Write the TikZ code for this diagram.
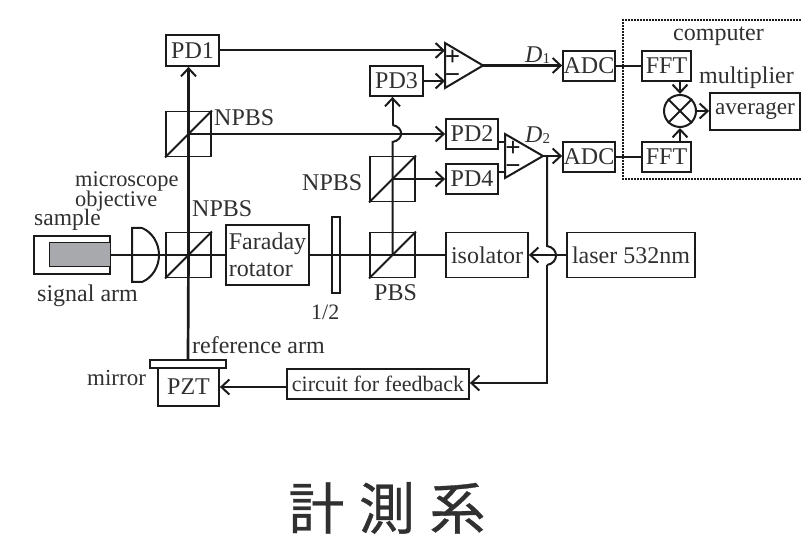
\documentclass[tikz,border=0pt]{standalone}
\usepackage{fontspec}
\setmainfont{Liberation Serif}
\newfontfamily\cjkfont[FakeBold=0.6]{Noto Sans CJK JP}
\usetikzlibrary{arrows.meta,calc}
\definecolor{ink}{HTML}{1A1A1A}
\definecolor{txt}{HTML}{303030}
\definecolor{samplegray}{HTML}{A7A9AC}
\tikzset{
  x=1pt,y=-1pt,
  ln/.style={line width=2pt,draw=ink},
  thickln/.style={line width=2.7pt,draw=ink},
  arr/.style={-{Straight Barb[length=8pt,width=15pt,line width=2pt]}},
  boxn/.style={draw=ink,line width=1.8pt,inner sep=0pt,text=txt,font=\fontsize{24}{26}\selectfont},
  cube/.style={draw=ink,line width=1.8pt,inner sep=0pt,minimum width=45pt,minimum height=45pt},
  lab/.style={text=txt,inner sep=0pt,font=\fontsize{24}{26}\selectfont},
  sgn/.style={text=ink,inner sep=0pt,align=center,font=\bfseries\fontsize{27}{18}\selectfont},
}
\begin{document}
\begin{tikzpicture}
\useasboundingbox (0,0) rectangle (801,537);
% boxes
\node[boxn,minimum width=53pt,minimum height=31pt] (pd1) at (192.5,50.5) {PD1};
\node[boxn,minimum width=53pt,minimum height=30pt] (pd3) at (396.5,81) {PD3};
\node[boxn,minimum width=52pt,minimum height=30pt] (pd2) at (472,134) {PD2};
\node[boxn,minimum width=52pt,minimum height=30pt] (pd4) at (472,179) {PD4};
\node[boxn,minimum width=82pt,minimum height=45pt] (iso) at (487,255) {isolator\hspace{3pt}};
\node[boxn,minimum width=128pt,minimum height=45pt] (laser) at (631,255) {laser 532nm};
\node[boxn,minimum width=52pt,minimum height=30pt] (adc1) at (589,66) {ADC};
\node[boxn,minimum width=52pt,minimum height=30pt] (adc2) at (589,157) {ADC};
\node[boxn,minimum width=49pt,minimum height=30pt] (fft1) at (666.5,66) {FFT};
\node[boxn,minimum width=49pt,minimum height=30pt] (fft2) at (666.5,157) {FFT};
\node[boxn,minimum width=90pt,minimum height=37pt,font=\fontsize{23.2}{25}\selectfont] (avg) at (755,111.5) {averager};
\node[boxn,minimum width=83pt,minimum height=60pt,align=left] (far) at (267.5,255) {Faraday\\[1pt]rotator};
\node[boxn,minimum width=61pt,minimum height=38pt] (pzt) at (188.5,387) {PZT};
\node[boxn,minimum width=182pt,minimum height=30pt,font=\fontsize{22}{24}\selectfont] (fb) at (378,384) {circuit for feedback};
\node[draw=ink,line width=1.8pt,inner sep=0pt,minimum width=76pt,minimum height=8pt] (mir) at (188,364) {};
\node[draw=ink,line width=1.8pt,inner sep=0pt,minimum width=8pt,minimum height=76pt] (hwp) at (336,255) {};
% cubes
\node[cube] (cu1) at (188.5,134) {};
\node[cube] (cu2) at (188.5,255) {};
\node[cube] (cu3) at (392.5,179) {};
\node[cube] (cu4) at (392.5,255) {};
\foreach \c in {cu1,cu2,cu3,cu4}
  \draw[ln] (\c.south west) -- (\c.north east);
% multiplier
\node[draw=ink,line width=2pt,circle,minimum size=32pt,inner sep=0pt] (mul) at (680,111) {};
\draw[ln] (mul.north west) -- (mul.south east) (mul.north east) -- (mul.south west);
% op amps
\coordinate (a1t) at (445,43); \coordinate (a1b) at (445,88); \coordinate (a1o) at (483,65.5);
\coordinate (a2t) at (505,134); \coordinate (a2b) at (505,178); \coordinate (a2o) at (543,156);
\draw[ln,line join=miter] (a1t) -- (a1o) -- (a1b) -- cycle;
\draw[ln,line join=miter] (a2t) -- (a2o) -- (a2b) -- cycle;
\node[sgn] at (452.5,67) {+\\−};
\node[sgn] at (513,158) {+\\−};
% sample
\draw[ln,fill=samplegray,line width=1pt] (49,243) rectangle (110,267);
\draw[ln] (110,243) -- (110,236) -- (34,236) -- (34,274) -- (110,274) -- (110,267);
\coordinate (smp) at (110,255);
% lens
\coordinate (lns) at (159,255);
\draw[ln] (132,228) -- (142,228) .. controls (152,232) and (159,243) .. (lns) .. controls (159,267) and (152,278) .. (142,282) -- (132,282) -- cycle;
% beams
\draw[ln] (smp) -- (cu2.center) -- (far.west);
\draw[ln] (far.east) -- (hwp.center) -- (cu4.center) -- (iso.west);
\draw[thickln,arr] (mir.north) -- (cu2.center) -- (cu1.center) -- (cu1.center |- pd1.south);
\draw[thickln,arr] (cu1.center) -- (pd2.west);
\draw[thickln,arr] (cu3.center) -- (pd4.west);
\coordinate (h1) at (392.5,142); \coordinate (h2) at (392.5,125);
\draw[ln] (cu4.center) -- (h1) .. controls (404,140) and (404,127) .. (h2);
\draw[ln,arr] (h2) -- (h2 |- pd3.south);
% detector wiring
\coordinate (ip) at (a1t |- pd1.east);
\coordinate (im) at (a1t |- pd3.east);
\draw[ln,arr] (pd1.east) -- (ip);
\draw[thickln,arr] (pd3.east) -- (im);
\draw[ln] (pd2.east |- 0,142) -- (a2t |- 0,142);
\draw[ln] (pd4.east |- 0,172) -- (a2t |- 0,172);
\draw[thickln,arr] (a1o) -- (adc1.west |- a1o);
\draw[ln,arr] (a2o) -- (adc2.west |- a2o);
\draw[ln] (adc1.east) -- (fft1.west);
\draw[ln] (adc2.east) -- (fft2.west);
\draw[ln,arr] (mul |- fft1.south) -- (mul.north);
\draw[ln,arr] (mul |- fft2.north) -- (mul.south);
\draw[thickln,arr] (mul.east) -- (avg.west |- mul.east);
% laser and feedback
\draw[thickln,arr] (laser.west) -- (iso.east);
\coordinate (f0) at (547,156); \coordinate (f1) at (547,246); \coordinate (f2) at (547,265); \coordinate (f3) at (547,383);
\draw[ln] (f0) -- (f1) .. controls (559,248) and (559,263) .. (f2);
\draw[ln,arr] (f2) -- (f3) -- (fb.east |- f3);
\draw[thickln,arr] (fb.west |- pzt.east) -- (pzt.east);
% computer frame
\draw[draw=ink,line width=2pt,densely dotted] (801,20) -- (623,20) -- (623,179) -- (801,179);
% labels
\node[lab,anchor=west,font=\fontsize{22.4}{24}\selectfont] at (75,181) {microscope};
\node[lab,anchor=west,font=\fontsize{22.4}{24}\selectfont] at (75,201) {objective};
\node[lab,anchor=west,font=\fontsize{23.5}{24}\selectfont] at (34,220) {sample};
\node[lab,anchor=west] at (37,296) {signal arm};
\node[lab,anchor=west] at (192,209) {NPBS};
\node[lab,anchor=west] at (214,118) {NPBS};
\node[lab,anchor=west] at (302,183) {NPBS};
\node[lab,anchor=west] at (374,293) {PBS};
\node[lab,anchor=west,font=\fontsize{22}{24}\selectfont] at (311,312) {1/2};
\node[lab,anchor=west] at (192,345) {reference arm};
\node[lab,anchor=west,font=\fontsize{23}{24}\selectfont] at (87,378) {mirror};
\node[lab,anchor=west] at (673,36) {computer};
\node[lab,anchor=west] at (699,78) {multiplier};
\node[lab,anchor=west] at (525,55) {\textit{D}\fontsize{15}{15}\selectfont\raisebox{-1pt}{1}};
\node[lab,anchor=west] at (525,135) {\textit{D}\fontsize{15}{15}\selectfont\raisebox{-1pt}{2}};
% title
\node[text=txt,inner sep=0pt,font=\cjkfont\fontsize{56}{58}\selectfont] at (387,508) {計\hspace{0.26em}測\hspace{0.26em}系};
\end{tikzpicture}
\end{document}
